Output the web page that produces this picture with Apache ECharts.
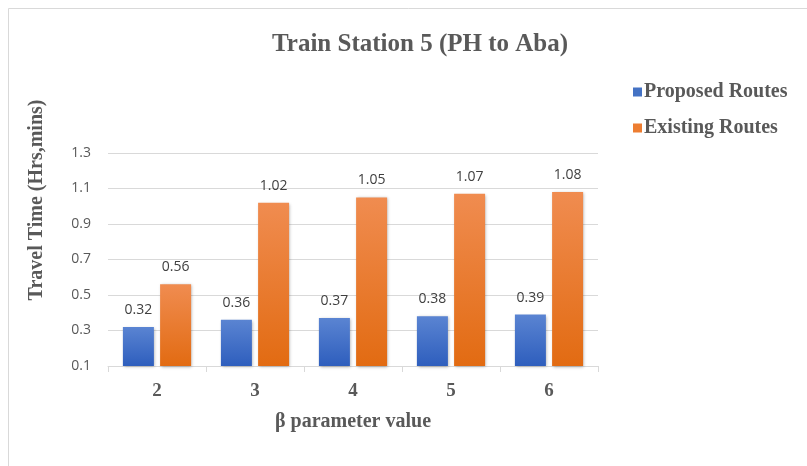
<!DOCTYPE html>
<html>
<head>
<meta charset="utf-8">
<script src="https://cdn.jsdelivr.net/npm/echarts@6/dist/echarts.min.js"></script>
<style>
  html, body { margin: 0; padding: 0; background: #ffffff; }
  #chart { width: 807px; height: 466px; }
</style>
</head>
<body>
<div id="chart"></div>
<script>
// β parameter values on the category axis
const categories = ['2', '3', '4', '5', '6'];
// Travel time per route type
const proposedRoutes = [0.32, 0.36, 0.37, 0.38, 0.39];
const existingRoutes = [0.56, 1.02, 1.05, 1.07, 1.08];
// Value axis range and step
const yMin = 0.1;
const yMax = 1.3;
const yStep = 0.2;

const serif = '"Liberation Serif", "DejaVu Serif", serif';
const sans = '"Open Sans", "Noto Sans", sans-serif';

function grad(top, bottom) {
  return new echarts.graphic.LinearGradient(0, 0, 0, 1, [
    { offset: 0, color: top },
    { offset: 1, color: bottom }
  ]);
}

const labelStyle = {
  show: true,
  position: 'top',
  distance: 10,
  color: '#404040',
  fontFamily: sans,
  fontSize: 14,
  formatter: p => p.value.toFixed(2)
};

const chart = echarts.init(document.getElementById('chart'), null, { renderer: 'canvas' });
chart.setOption({
  animation: false,
  backgroundColor: '#ffffff',
  graphic: [
    {
      type: 'rect',
      shape: { x: 8.5, y: 8.5, width: 900, height: 600 },
      style: { fill: 'none', stroke: '#d9d9d9', lineWidth: 1 },
      z: -10
    },
    {
      // value axis title, set a little above the plot's middle
      type: 'text',
      x: 37,
      y: 200,
      rotation: Math.PI / 2,
      style: {
        text: 'Travel Time (Hrs,mins)',
        fontFamily: serif,
        fontWeight: 'bold',
        fontSize: 20,
        fill: '#595959',
        align: 'center',
        verticalAlign: 'middle'
      }
    }
  ],
  title: {
    text: 'Train Station 5 (PH to Aba)',
    left: 415,
    textAlign: 'center',
    top: 27,
    textStyle: { fontFamily: serif, fontWeight: 'bold', fontSize: 25, color: '#595959' }
  },
  legend: {
    orient: 'vertical',
    left: 628,
    top: 77,
    itemWidth: 9,
    itemHeight: 9,
    itemGap: 16,
    icon: 'rect',
    textStyle: { fontFamily: serif, fontWeight: 'bold', fontSize: 20, color: '#595959', padding: [0, 0, 0, -3] },
    data: [
      { name: 'Proposed Routes', itemStyle: { color: '#4472c4' } },
      { name: 'Existing Routes', itemStyle: { color: '#ed7d31' } }
    ]
  },
  grid: { left: 108, right: 209, top: 153, bottom: 100 },
  xAxis: {
    type: 'category',
    data: categories,
    name: 'β parameter value',
    nameLocation: 'middle',
    nameGap: 46,
    nameTextStyle: { fontFamily: serif, fontWeight: 'bold', fontSize: 20, color: '#595959' },
    axisLine: { lineStyle: { color: '#d9d9d9' } },
    axisTick: { show: true, length: 6, lineStyle: { color: '#d9d9d9' } },
    axisLabel: { margin: 16, fontFamily: serif, fontWeight: 'bold', fontSize: 19, color: '#595959' }
  },
  yAxis: {
    type: 'value',
    min: yMin,
    max: yMax,
    interval: yStep,
    axisLine: { show: false },
    axisTick: { show: false },
    axisLabel: { margin: 17, fontFamily: sans, fontSize: 14, color: '#595959', formatter: v => v.toFixed(1) },
    splitLine: { lineStyle: { color: '#d9d9d9' } }
  },
  series: [
    {
      name: 'Proposed Routes',
      type: 'bar',
      data: proposedRoutes,
      barWidth: 31,
      barGap: '20%',
      itemStyle: {
        color: grad('#5a84d2', '#2e5ebd'),
        shadowBlur: 3, shadowColor: 'rgba(0,0,0,0.3)', shadowOffsetX: 1, shadowOffsetY: 1
      },
      label: labelStyle
    },
    {
      name: 'Existing Routes',
      type: 'bar',
      data: existingRoutes,
      barWidth: 31,
      itemStyle: {
        color: grad('#f08c50', '#e26b12'),
        shadowBlur: 3, shadowColor: 'rgba(0,0,0,0.3)', shadowOffsetX: 1, shadowOffsetY: 1
      },
      label: labelStyle
    }
  ]
});
</script>
</body>
</html>
